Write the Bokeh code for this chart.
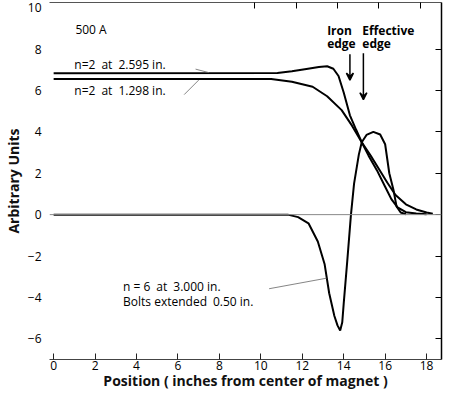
from bokeh.plotting import figure
from bokeh.models import (LinearAxis, Range1d, Arrow, VeeHead, FixedTicker, Label, Span,
                          CustomJSTickFormatter)
from bokeh.embed import file_html
from bokeh.resources import INLINE

# ---- data ----
a_x = [0, 10.8, 11.5, 12.2, 12.8, 13.2, 13.5, 13.75, 14.0, 14.3, 14.6, 14.87,
       15.2, 15.6, 16.0, 16.3, 16.6, 17.0, 17.5, 18.0]
a_y = [6.83, 6.84, 6.93, 7.04, 7.13, 7.17, 7.05, 6.7, 5.9, 4.8, 4.1, 3.5,
       2.85, 2.15, 1.35, 0.75, 0.35, 0.12, 0.05, 0.02]

b_x = [0, 10.5, 11.5, 12.5, 13.2, 13.9, 14.4, 14.87, 15.3, 15.7, 16.1, 16.5,
       17.0, 17.5, 18.0, 18.3]
b_y = [6.55, 6.55, 6.42, 6.18, 5.72, 5.05, 4.3, 3.5, 2.85, 2.2, 1.55, 0.95,
       0.5, 0.25, 0.1, 0.04]

c_x = [0, 11.3, 11.8, 12.3, 12.75, 13.08, 13.3, 13.55, 13.7, 13.83, 13.93, 14.0,
       14.17, 14.35, 14.5, 14.73, 14.87, 15.1, 15.43, 15.76, 16.0, 16.2, 16.4,
       16.55, 16.75, 17.0]
c_y = [0, 0, -0.12, -0.42, -1.3, -2.4, -3.8, -4.9, -5.35, -5.6, -5.2, -4.3,
       -2.26, 0, 1.5, 2.9, 3.5, 3.85, 4.0, 3.87, 3.4, 2.0, 1.2, 0.4, 0.1, 0.02]

x_ticks = [0, 2, 4, 6, 8, 10, 12, 14, 16, 18]
y_ticks = [-6, -4, -2, 0, 2, 4, 6, 8, 10]
frame_y_ticks = [-6, -4, -2, 0, 2, 4, 6, 8]
top_ticks = [9.7, 11.7, 13.7, 15.7, 17.7]

x_title = "Position ( inches from center of magnet )"
y_title = "Arbitrary Units"

# annotation texts and anchor positions (data units)
labels = ["500 A", "n=2\u2002at\u20022.595 in.", "n=2\u2002at\u20021.298 in.",
          "n = 6\u2002at\u20023.000 in.", "Bolts extended\u20020.50 in."]
label_x = [1.05, 1.0, 1.0, 3.35, 3.35]
label_y = [8.95, 7.26, 6.0, -3.45, -4.2]

edge_labels = ["Iron", "edge", "Effective", "edge"]
edge_x = [13.2, 13.2, 14.9, 14.9]
edge_y = [8.9, 8.25, 8.9, 8.25]

arrow_x = [14.3, 14.95]
arrow_y0 = [7.75, 7.8]
arrow_y1 = [6.5, 5.55]

leader_x0 = [6.85, 6.3, 10.4]
leader_y0 = [7.03, 5.8, -3.58]
leader_x1 = [7.5, 7.0, 13.18]
leader_y1 = [6.86, 6.5, -3.07]

FONT = "Open Sans"
blank = CustomJSTickFormatter(code="return ''")

p = figure(width=443, height=393, output_backend="svg", toolbar_location=None,
           x_range=Range1d(-0.2, 18.72), y_range=Range1d(-7, 10.25),
           min_border_left=40, min_border_right=2, min_border_top=2,
           min_border_bottom=34)
p.grid.visible = False
p.outline_line_color = None
p.background_fill_color = "white"
p.border_fill_color = "white"

# bottom axis
xa = p.xaxis[0]
xa.ticker = FixedTicker(ticks=x_ticks)
xa.major_tick_in = 6
xa.major_tick_out = 0
xa.minor_tick_line_color = None
xa.axis_line_color = "#444444"
xa.major_tick_line_color = "#222222"
xa.major_label_text_font = FONT
xa.major_label_text_font_size = "12px"
xa.major_label_text_color = "black"
xa.major_label_standoff = 1
xa.axis_label = x_title
xa.axis_label_text_font = FONT
xa.axis_label_text_font_size = "14px"
xa.axis_label_text_font_style = "bold"
xa.axis_label_text_color = "#111111"
xa.axis_label_standoff = -2

# left axis
ya = p.yaxis[0]
ya.ticker = FixedTicker(ticks=y_ticks)
ya.axis_line_color = None
ya.major_tick_line_color = None
ya.minor_tick_line_color = None
ya.major_label_text_font = FONT
ya.major_label_text_font_size = "12px"
ya.major_label_text_color = "black"
ya.major_label_standoff = 2
ya.axis_label = y_title
ya.axis_label_text_font = FONT
ya.axis_label_text_font_size = "14px"
ya.axis_label_text_font_style = "bold"
ya.axis_label_text_color = "#111111"
ya.axis_label_standoff = 2

# right axis (ticks only)
ra = LinearAxis(ticker=FixedTicker(ticks=frame_y_ticks), formatter=blank,
                major_tick_in=6, major_tick_out=0, minor_tick_line_color=None,
                major_label_standoff=0, axis_line_color="black", axis_line_width=1.5)
p.add_layout(ra, "right")

# top axis (ticks only)
ta = LinearAxis(ticker=FixedTicker(ticks=top_ticks), formatter=blank, major_tick_in=6,
                major_tick_out=0, minor_tick_line_color=None, major_label_standoff=0,
                axis_line_color="#555555", axis_line_width=1)
p.add_layout(ta, "above")

# zero reference line
p.add_layout(Span(location=0, dimension="width", line_color="#888888", line_width=1))

# curves
p.line(c_x, c_y, line_color="black", line_width=2)
p.line(b_x, b_y, line_color="black", line_width=2)
p.line(a_x, a_y, line_color="black", line_width=2)

# leader lines
p.segment(leader_x0, leader_y0, leader_x1, leader_y1, line_color="#666666", line_width=0.8)

# arrows
for ax_, y0, y1 in zip(arrow_x, arrow_y0, arrow_y1):
    p.add_layout(Arrow(x_start=ax_, y_start=y0, x_end=ax_, y_end=y1, line_width=1.5,
                       end=VeeHead(size=7, line_width=1.5, line_color="black",
                                   fill_color="black")))

for t, x, y in zip(labels, label_x, label_y):
    p.add_layout(Label(x=x, y=y, text=t, text_font=FONT, text_font_size="12px",
                       text_baseline="middle", text_color="black"))

for t, x, y in zip(edge_labels, edge_x, edge_y):
    p.add_layout(Label(x=x, y=y, text=t, text_font=FONT, text_font_size="12px",
                       text_font_style="bold", text_baseline="middle", text_color="black"))

open("out.html", "w").write(file_html(p, INLINE))
